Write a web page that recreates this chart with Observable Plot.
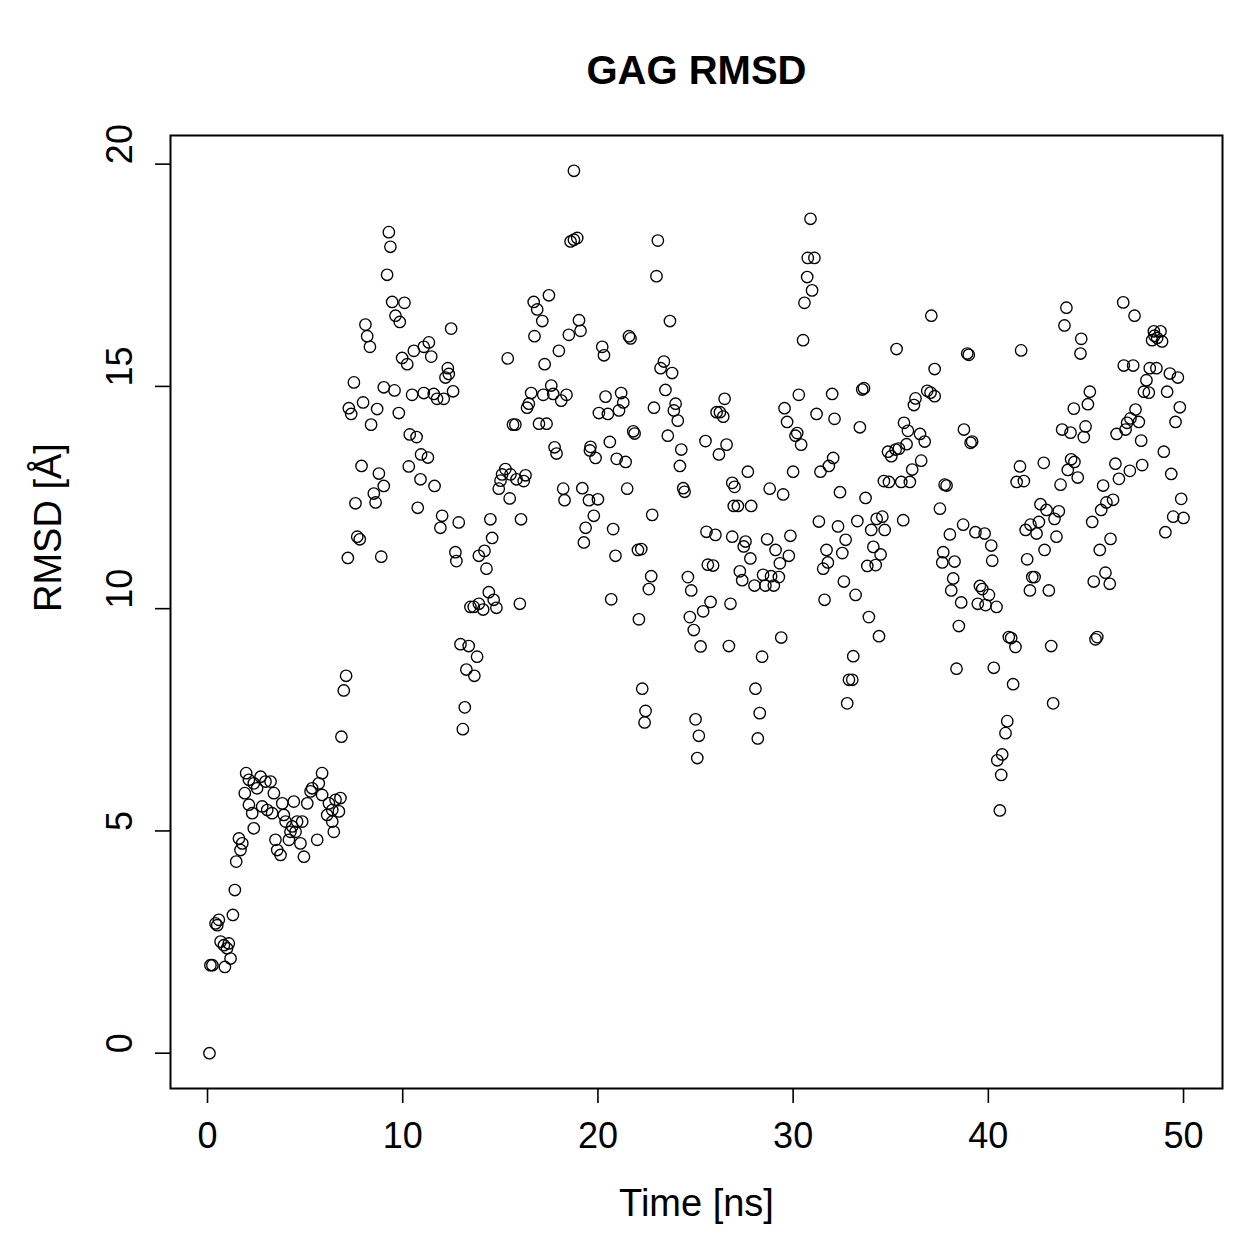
<!DOCTYPE html>
<html>
<head>
<meta charset="utf-8">
<script src="https://cdn.jsdelivr.net/npm/d3@7"></script>
<script src="https://cdn.jsdelivr.net/npm/@observablehq/plot@0.6"></script>
<style>
  html, body { margin: 0; padding: 0; background: #fff; }
  svg { display: block; }
</style>
</head>
<body>
<div id="chart"></div>
<script>
const chartTitle = "GAG RMSD";
const xLabel = "Time [ns]";
const yLabel = "RMSD [Å]";
const xTicks = [0, 10, 20, 30, 40, 50];
const yTicks = [0, 5, 10, 15, 20];

// Simulation time (ns) of each RMSD sample
const time = [
  0.1,0.15,0.25,0.89,1.18,0.67,0.84,1.09,1.0,0.41, 0.58,0.5,1.30,1.40,1.47,1.69,1.78,1.61,2.37,2.29,
  2.12,1.91,1.98,2.12,2.37,2.54,2.72,2.97,3.23,3.40, 2.80,3.06,3.31,3.83,3.91,4.0,4.42,4.34,4.59,4.85,
  4.25,4.51,4.17,3.48,3.57,3.74,4.76,4.94,5.62,5.11, 5.28,5.36,5.70,5.87,5.87,6.22,6.13,6.39,6.56,6.81,
  6.73,6.39,6.47,7.10,6.98,6.86,
  9.29,9.37,9.20,9.46,10.09,9.63,9.85,8.09,8.18,8.32, 9.97,10.23,10.57,11.08,11.34,11.46,7.50,9.03,9.58,10.48,
  11.08,11.59,7.24,7.36,7.97,8.69,8.38,9.80,10.36,10.71, 10.94,11.29,10.31,7.89,8.78,9.03,8.52,8.61,7.58,10.91,
  10.77,7.67,7.80,7.19,8.90,11.63,
  16.71,16.75,12.48,15.38,12.31,12.36,12.19,12.58,11.76,12.10, 16.58,16.46,16.37,15.65,15.77,15.26,15.09,15.01,14.92,15.52,
  15.83,16.29,16.20,15.48,16.06,12.02,11.93,12.87,14.49,14.58, 12.70,12.75,13.90,14.19,14.29,14.41,14.66,13.90,13.47,13.64,
  14.12,14.80,16.00,12.96,13.38,13.81,13.26,13.67,13.18,13.08,
  18.77,18.60,18.77,18.94,17.49,16.89,17.15,19.03,19.11,18.51, 18.00,17.27,20.22,20.31,21.59,21.67,17.20,17.61,17.71,18.12,
  18.39,16.98,17.37,20.39,21.19,21.30,21.08,20.51,20.05,21.81, 21.88,17.78,17.88,19.62,19.59,19.88,20.61,20.96,21.42,21.50,
  18.22,18.29,19.20,19.54,20.0,19.79,19.37,19.28,20.78,20.90, 20.68,
  23.07,23.0,23.69,23.38,23.21,23.80,23.46,22.87,23.98,23.89, 24.09,23.58,24.27,24.20,24.37,24.44,22.78,22.05,22.22,22.73,
  22.61,22.10,25.56,26.02,26.88,25.63,25.90,24.61,24.78,25.77, 25.39,24.71,24.91,25.26,26.71,26.79,22.27,22.44,22.39,25.0,
  25.17,25.09,26.49,26.08,26.25,26.42,25.51,26.59,26.20,26.88, 27.0,26.96,
  30.89,30.75,31.09,30.72,30.97,30.58,30.51,30.29,29.56,29.69, 31.20,32.0,32.12,30.12,30.21,30.41,30.0,27.68,28.80,29.49,
  31.40,31.83,32.05,27.17,27.85,27.56,27.47,27.81,27.27,27.39, 28.67,29.10,29.32,28.87,28.46,29.27,28.58,29.01,28.02,29.86,
  29.78,29.39,28.41,28.07,28.29,28.19,31.32,31.71,31.78,31.54, 31.61,
  37.08,35.30,37.25,33.54,33.63,33.42,36.27,36.19,36.87,37.04, 37.25,35.68,35.88,36.50,36.74,35.81,35.42,34.86,35.03,35.25,
  36.56,36.10,35.98,34.65,34.91,35.54,32.40,33.71,32.30,32.69, 32.52,33.29,34.28,34.57,34.0,34.69,35.64,34.11,34.48,33.80,
  34.23,32.60,33.20,33.88,34.40,33.08,32.86,33.03,32.77,
  38.92,39.0,41.68,38.75,39.17,39.09,37.76,37.86,37.52,41.62, 41.45,41.82,38.71,39.34,39.81,40.15,40.20,38.03,37.69,37.64,
  38.27,38.20,38.10,38.61,39.57,39.69,40.03,39.46,39.86,40.42, 38.49,41.05,41.17,41.39,38.37,40.28,41.27,40.97,40.88,40.71,
  40.46,40.66,40.59,41.91,42.16,41.99,42.25,42.13,42.37,
  44.0,43.90,44.76,44.72,45.20,45.10,44.38,43.78,44.21,44.98, 44.89,46.57,42.84,44.24,44.41,44.07,44.58,43.70,46.51,46.69,
  45.88,46.05,46.39,45.78,45.32,42.67,42.98,43.61,43.39,42.59, 42.47,43.49,42.88,45.71,46.26,43.10,45.40,46.0,46.22,45.58,
  45.49,43.22,43.32,
  46.91,47.49,48.48,48.82,48.39,48.65,48.90,48.51,46.94,47.42, 48.27,48.61,49.30,49.71,48.10,47.97,48.22,49.16,49.81,49.59,
  47.54,47.71,47.28,47.11,47.03,47.83,48.99,47.88,47.25,49.37, 49.88,49.47,50.0,49.07
];

// RMSD (Å) of each sample, same order as time
const rmsd = [
  0.0,1.98,1.98,1.94,2.13,2.51,2.43,2.47,2.36,2.92, 3.0,2.88,3.11,3.67,4.31,4.57,4.72,4.83,5.06,5.40,
  5.59,5.85,6.30,6.15,6.07,5.96,6.22,6.11,6.11,5.85, 5.55,5.47,5.40,5.62,5.36,5.21,5.66,5.10,5.21,5.21,
  4.98,4.98,4.80,4.80,4.57,4.46,4.72,4.42,4.80,5.62, 5.89,5.96,6.07,6.30,5.81,5.62,5.36,5.47,5.70,5.74,
  5.44,5.21,4.98,8.49,8.16,7.12,
  18.47,18.14,17.51,16.90,16.88,16.59,16.45,16.39,16.13,15.89, 15.64,15.50,15.80,15.89,15.99,15.67,15.09,14.98,14.91,14.81,
  14.85,14.83,14.51,14.38,14.64,14.49,14.14,14.40,13.92,13.86, 13.47,13.40,13.20,13.21,13.04,12.76,12.59,12.39,12.37,12.91,
  12.27,11.62,11.56,11.14,11.17,12.76,
  16.90,16.13,16.30,15.63,15.41,15.28,15.20,14.89,14.72,14.72, 14.85,14.61,14.52,14.14,14.14,13.14,13.02,12.88,12.70,13.02,
  12.91,13.0,12.87,12.48,12.01,12.09,11.82,11.94,12.01,11.59, 11.27,11.07,11.19,11.30,10.90,10.37,10.20,10.11,10.04,10.04,
  9.98,10.02,10.11,9.20,9.16,8.92,8.63,8.49,7.78,7.29,
  19.85,18.26,18.30,18.34,17.05,16.73,16.47,16.49,16.25,16.16, 15.80,15.50,15.89,15.70,16.13,16.08,14.81,15.02,14.83,14.68,
  14.81,14.16,14.16,14.77,14.85,14.64,14.46,14.38,14.40,13.99, 13.94,13.63,13.49,13.64,13.56,13.39,13.75,13.37,13.30,12.70,
  12.70,12.44,12.71,12.44,12.46,12.09,11.82,11.49,11.79,11.19, 10.21,
  18.28,17.48,16.47,15.56,15.41,15.30,14.92,14.52,14.61,14.46, 14.23,13.89,13.58,13.21,12.71,12.63,12.11,11.32,11.34,10.73,
  10.44,9.76,11.73,11.66,11.62,10.99,10.97,10.71,10.41,10.15, 9.94,9.81,9.52,9.15,9.16,10.11,8.20,7.70,7.44,7.51,
  7.14,6.64,14.72,14.42,14.42,14.32,13.77,13.69,13.47,12.83, 12.74,12.31,
  18.77,17.89,17.89,17.46,17.16,16.88,16.04,14.81,14.51,14.20, 14.38,14.83,14.27,13.89,13.95,13.69,13.08,13.08,12.70,12.57,
  13.08,13.21,13.39,12.31,12.31,11.51,11.40,11.13,10.84,10.64, 11.56,11.32,11.02,10.73,10.76,10.71,10.52,10.52,10.52,11.64,
  11.19,9.35,8.92,8.20,7.65,7.08,11.96,11.32,11.04,10.90, 10.20,
  16.59,15.84,15.39,14.93,14.96,14.08,14.73,14.58,14.90,14.86, 14.78,14.18,14.0,13.93,13.76,13.70,13.60,13.53,13.43,13.58,
  13.33,13.13,12.85,12.87,12.85,12.85,12.62,12.49,11.85,11.55, 11.25,11.97,12.02,12.07,11.77,11.77,11.99,11.39,11.22,10.96,
  10.98,10.61,10.31,9.81,9.38,8.93,8.40,8.40,7.87,
  15.74,15.71,15.81,14.03,13.76,13.73,12.79,12.77,12.25,13.20, 12.85,12.87,11.89,11.72,11.69,11.42,11.08,11.67,11.27,11.04,
  11.06,10.68,10.41,10.14,10.51,10.44,10.31,10.11,10.08,10.04, 9.61,9.36,9.34,9.14,8.65,8.67,8.30,7.47,7.20,6.72,
  6.59,6.26,5.46,11.77,11.89,11.11,10.71,10.41,10.71,
  16.77,16.37,16.07,15.74,14.88,14.60,14.50,14.03,13.96,14.10, 13.86,13.93,13.28,13.36,13.30,13.12,12.95,12.79,13.26,12.92,
  12.77,12.39,12.45,12.22,11.95,12.35,12.22,12.19,12.02,11.95, 11.69,11.62,11.32,11.32,11.57,10.41,10.61,10.81,10.56,9.36,
  9.31,9.16,7.87,
  16.89,16.59,16.24,16.24,16.04,16.09,16.01,16.14,15.47,15.47, 15.41,15.41,15.29,15.20,15.14,14.88,14.86,14.88,14.53,14.20,
  14.48,14.20,14.28,14.18,14.03,13.78,13.53,13.23,13.10,13.03, 12.47,12.07,12.04,11.72
];

const samples = time.map((t, i) => ({time: t, rmsd: rmsd[i]}));
if (time.length !== rmsd.length) console.warn("time/rmsd length mismatch", time.length, rmsd.length);

// Axis ranges padded by 4% of the data span on each side
const pad = ([lo, hi]) => [lo - (hi - lo) * 0.04, hi + (hi - lo) * 0.04];
const xDomain = pad(d3.extent(time));
const yDomain = pad(d3.extent(rmsd));

const font = "'Liberation Sans', Arial, Helvetica, sans-serif";

const chart = Plot.plot({
  width: 1259,
  height: 1259,
  marginLeft: 170,
  marginRight: 37,
  marginTop: 135,
  marginBottom: 171,
  style: {fontFamily: font, fontSize: "36px", color: "#000", background: "#fff", overflow: "visible"},
  x: {domain: xDomain},
  y: {domain: yDomain},
  marks: [
    Plot.frame({stroke: "#000", strokeWidth: 2}),
    Plot.dot(samples, {x: "time", y: "rmsd", r: 5.7, stroke: "#000", strokeWidth: 1.35, fill: "none"}),
    Plot.axisX({ticks: xTicks, tickSize: 15, tickPadding: 19, tickFormat: d => `${d}`, label: null, fontSize: 36, strokeWidth: 1.6}),
    Plot.axisY({ticks: yTicks, tickSize: 15, tickFormat: () => "", label: null, strokeWidth: 1.6}),
    Plot.text(yTicks, {frameAnchor: "left", y: d => d, text: d => `${d}`, rotate: -90, dx: -50, fontSize: 36}),
    Plot.text([chartTitle], {frameAnchor: "top", text: d => d, dy: -80, fontWeight: "bold", fontSize: 40}),
    Plot.text([xLabel], {frameAnchor: "bottom", text: d => d, dy: 127, fontSize: 38}),
    Plot.text([yLabel], {frameAnchor: "left", text: d => d, rotate: -90, dx: -122, fontSize: 38})
  ]
});

document.getElementById("chart").appendChild(chart);
</script>
</body>
</html>
